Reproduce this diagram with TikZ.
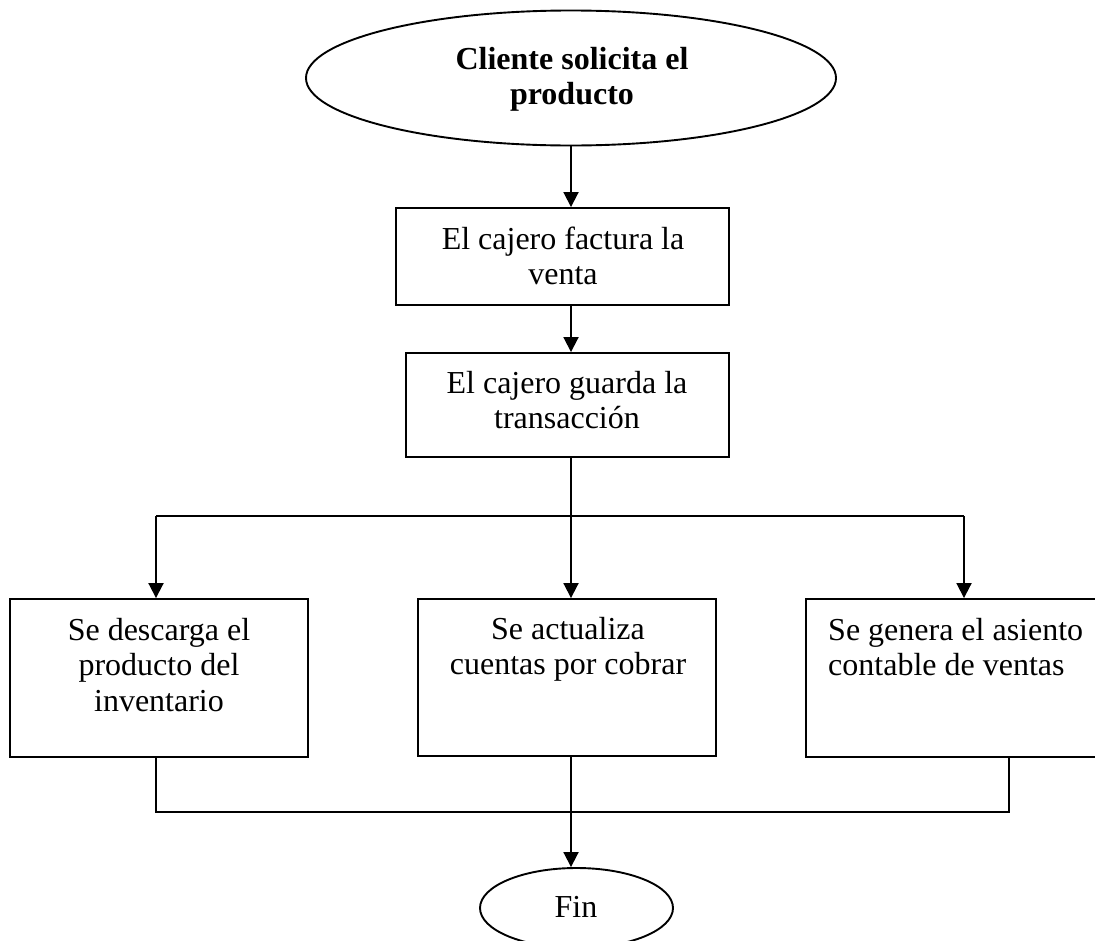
\documentclass[tikz,border=0pt]{standalone}
\usepackage{fontspec}
\setmainfont{Liberation Serif}
\usetikzlibrary{arrows.meta,shapes.geometric,calc}
\begin{document}
\begin{tikzpicture}[x=1pt,y=1pt,
  ln/.style={line width=1.9pt},
  arr/.style={line width=1.9pt,-{Triangle[length=15pt,width=15pt]}},
  box/.style={draw,line width=1.9pt,rectangle,inner sep=0pt},
  oval/.style={draw,line width=1.9pt,ellipse,inner sep=0pt},
  txt/.style={inner sep=0pt,font=\fontsize{32}{35.5}\selectfont}]
\clip (0,0) rectangle (1095,-940);
% nodes
\node[oval,minimum width=530pt,minimum height=135pt] (start) at (571,-78) {};
\node[txt,anchor=base] (tstart) at (572,-69) {\parbox[t]{420pt}{\centering\bfseries Cliente solicita el\\producto}};
\node[box,minimum width=333pt,minimum height=97pt] (b1) at (562.5,-256.5) {};
\node[txt,anchor=base] (t1) at (563,-249) {\parbox[t]{320pt}{\centering El cajero factura la\\venta}};
\node[box,minimum width=323pt,minimum height=104pt] (b2) at (567.5,-405) {};
\node[txt,anchor=base] (t2) at (567,-393) {\parbox[t]{310pt}{\centering El cajero guarda la\\transacción}};
\node[box,minimum width=298pt,minimum height=158pt] (b3) at (159,-678) {};
\node[txt,anchor=base] (t3) at (159,-640) {\parbox[t]{290pt}{\centering Se descarga el\\producto del\\inventario}};
\node[box,minimum width=298pt,minimum height=157pt] (b4) at (567,-677.5) {};
\node[txt,anchor=base] (t4) at (568,-639) {\parbox[t]{290pt}{\centering Se actualiza\\cuentas por cobrar}};
\node[box,minimum width=294pt,minimum height=158pt] (b5) at (953,-678) {};
\node[txt,anchor=base west] (t5) at (828,-640) {\parbox[t]{265pt}{\raggedright Se genera el asiento\\contable de ventas}};
\node[oval,minimum width=193pt,minimum height=80pt] (fin) at (576.5,-908) {};
\node[txt,anchor=base] (tfin) at (576,-917) {Fin};
% coordinates
\coordinate (ax) at (571,0);
\coordinate (j) at (571,-516);
\coordinate (jl) at (156,-516);
\coordinate (jr) at (964,-516);
\coordinate (ml) at (156,-812);
\coordinate (mr) at (1009,-812);
% connectors
\draw[arr] (start.south -| ax) -- (b1.north -| ax);
\draw[arr] (b1.south -| ax) -- (b2.north -| ax);
\draw[ln] (b2.south -| ax) -- (j);
\draw[ln] (jl) -- (jr);
\draw[arr] (jl) -- (b3.north -| jl);
\draw[arr] (j) -- (b4.north -| j);
\draw[arr] (jr) -- (b5.north -| jr);
\draw[ln] (b3.south -| ml) -- (ml) -- (mr) -- (b5.south -| mr);
\draw[arr] (b4.south -| ax) -- (fin.north -| ax);
\end{tikzpicture}
\end{document}
